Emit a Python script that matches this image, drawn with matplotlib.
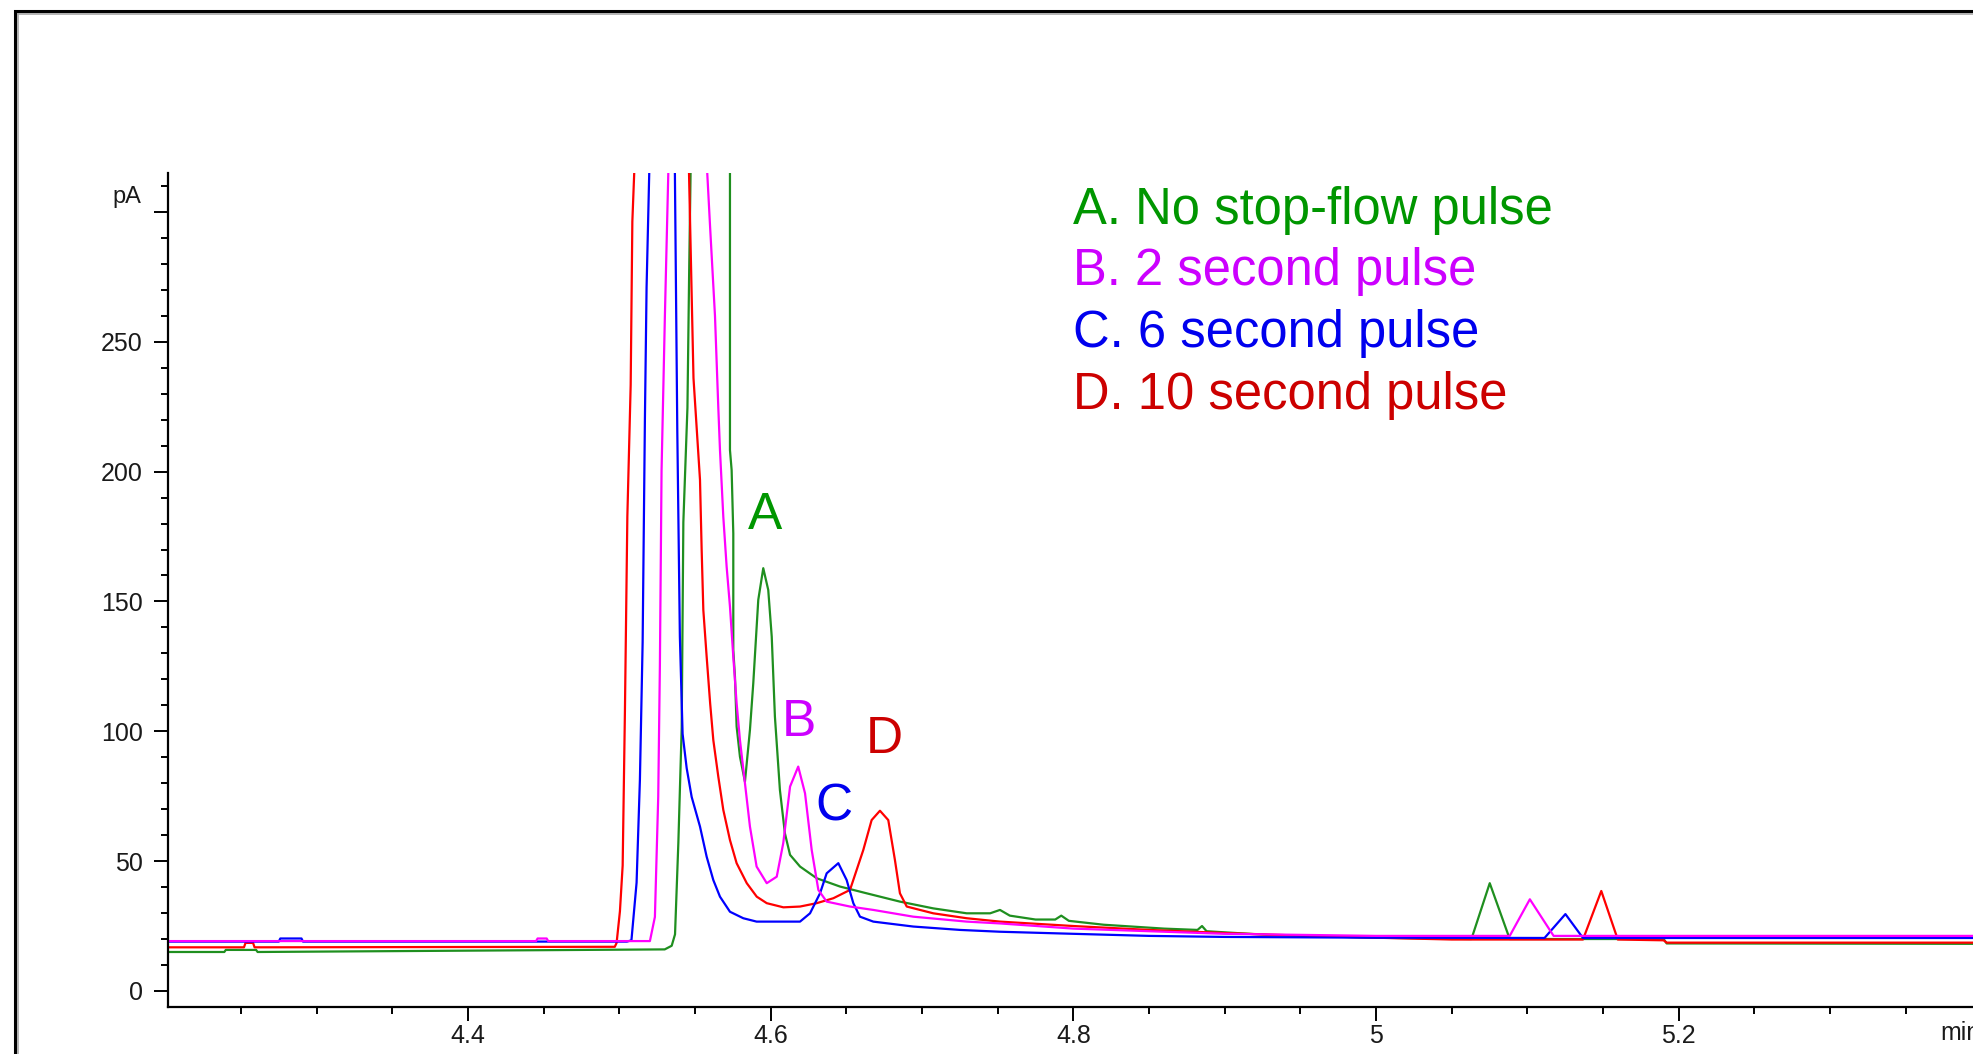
import matplotlib
matplotlib.use("Agg")
import matplotlib.pyplot as plt
from matplotlib.patches import Rectangle
from matplotlib.lines import Line2D
from matplotlib.ticker import FixedLocator, MultipleLocator

# ---------------- data (retention time in min, signal in pA) ----------------
t_green = [4.200, 4.239, 4.240, 4.260, 4.261, 4.530, 4.5346, 4.5368, 4.539, 4.5412,
           4.5423, 4.545, 4.5462, 4.5471, 4.560, 4.5731, 4.5731, 4.5742, 4.5753, 4.5753,
           4.5764, 4.5775, 4.5797, 4.583, 4.5863, 4.5885, 4.5918, 4.5951, 4.5984, 4.6007,
           4.6028, 4.6061, 4.6094, 4.6128, 4.6194, 4.6304, 4.6458, 4.6634, 4.6854, 4.7074,
           4.7295, 4.745, 4.7515, 4.758, 4.775, 4.788, 4.792, 4.797, 4.82, 4.86,
           4.882, 4.885, 4.888, 4.93, 5.0, 5.063, 5.0751, 5.0883, 5.19, 5.192, 5.45]
v_green = [15.0, 15.0, 15.8, 15.8, 15.0, 16.0, 17.4, 21.8, 57.1, 101.2,
           180.5, 224.6, 279.7, 316, 1500, 316, 208.3, 200.6, 176.2, 131.3,
           121.0, 101.8, 90.2, 80.6, 100.5, 118.5, 150.6, 162.8, 154.4, 136.4,
           105.6, 77.4, 60.7, 52.4, 47.9, 43.4, 40.2, 37.6, 34.4, 31.8,
           29.9, 29.9, 31.2, 29.0, 27.5, 27.5, 29.0, 27.0, 25.5, 24.0,
           23.5, 25.0, 23.0, 21.5, 20.5, 20.0, 41.5, 20.0, 20.0, 18.3, 18.1]

t_red = [4.200, 4.252, 4.253, 4.258, 4.259, 4.497, 4.4982, 4.5004, 4.5022, 4.5037,
         4.5053, 4.5075, 4.5086, 4.5099, 4.527, 4.546, 4.549, 4.5533, 4.5544, 4.5555,
         4.5577, 4.560, 4.5621, 4.5654, 4.5687, 4.5731, 4.5775, 4.5842, 4.5908, 4.5974,
         4.6084, 4.6194, 4.6304, 4.6414, 4.6524, 4.6612, 4.6667, 4.6722, 4.6777, 4.6821,
         4.6854, 4.6899, 4.7074, 4.7295, 4.7515, 4.80, 4.85, 4.90, 4.95, 5.0,
         5.05, 5.1367, 5.1488, 5.1597, 5.19, 5.192, 5.45]
v_red = [16.8, 16.8, 18.5, 18.5, 16.8, 17.0, 18.5, 30.7, 48.3, 107.8,
         182.7, 233.4, 296.3, 316, 1500, 316, 236, 196.8, 169.8, 146.7,
         128.7, 110.8, 96.6, 82.5, 69.7, 58.1, 49.2, 41.5, 36.3, 33.8,
         32.2, 32.5, 33.8, 35.7, 38.9, 54.3, 65.8, 69.4, 65.8, 50.4,
         37.6, 32.5, 29.9, 28.0, 26.7, 25.0, 23.5, 22.3, 21.3, 20.5,
         19.8, 19.8, 38.5, 19.8, 19.5, 18.6, 18.6]

t_blue = [4.200, 4.275, 4.276, 4.290, 4.291, 4.505, 4.508, 4.5114, 4.5136, 4.5154,
          4.5169, 4.518, 4.5198, 4.528, 4.5367, 4.5383, 4.540, 4.5418, 4.5445, 4.5478,
          4.5533, 4.5577, 4.5621, 4.5665, 4.5731, 4.5819, 4.5907, 4.6194, 4.626, 4.6326,
          4.637, 4.6447, 4.6502, 4.6546, 4.659, 4.6678, 4.6942, 4.7251, 4.7515, 4.80,
          4.85, 4.90, 5.0, 5.1113, 5.1251, 5.1367, 5.45]
v_blue = [19.0, 19.0, 20.2, 20.2, 19.0, 19.0, 19.5, 41.7, 81.4, 134.3,
          220.2, 270.9, 316, 1500, 316, 215.8, 136.5, 99.0, 85.8, 74.7,
          63.3, 51.7, 42.7, 36.3, 30.5, 28.0, 26.7, 26.7, 29.9, 37.6,
          45.3, 49.2, 42.7, 33.8, 28.6, 26.7, 24.8, 23.5, 22.8, 22.0,
          21.2, 20.8, 20.5, 20.4, 29.6, 20.4, 20.4]

t_mag = [4.200, 4.445, 4.446, 4.452, 4.453, 4.5202, 4.5235, 4.5257, 4.5268, 4.5279,
         4.5301, 4.5324, 4.545, 4.558, 4.5599, 4.5632, 4.5654, 4.5665, 4.5687, 4.5709,
         4.5731, 4.5753, 4.5775, 4.5797, 4.583, 4.5863, 4.5907, 4.5974, 4.604, 4.6083,
         4.6128, 4.6182, 4.6227, 4.6271, 4.6315, 4.637, 4.6524, 4.6678, 4.6942, 4.7295,
         4.7515, 4.80, 4.85, 4.90, 5.0, 5.0883, 5.1016, 5.1173, 5.45]
v_mag = [19.2, 19.2, 20.2, 20.2, 19.2, 19.2, 28.5, 74.7, 125.4, 200.4,
         259.9, 316, 1500, 316, 295, 260, 224.6, 208.3, 182.6, 163.4,
         148.0, 128.7, 110.8, 96.6, 80.0, 63.3, 47.9, 41.5, 44.0, 56.9,
         78.7, 86.4, 76.1, 54.3, 38.9, 34.4, 32.5, 31.2, 28.6, 26.7,
         26.0, 24.0, 23.0, 22.0, 21.2, 21.2, 35.3, 21.2, 21.2]

x_major = [4.4, 4.6, 4.8, 5.0, 5.2]
x_labels = ["4.4", "4.6", "4.8", "5", "5.2"]
y_major = [0, 50, 100, 150, 200, 250, 300]
y_labels = ["0", "50", "100", "150", "200", "250", ""]

legend_texts = ["A. No stop-flow pulse", "B. 2 second pulse",
                "C. 6 second pulse", "D. 10 second pulse"]
peak_letters = ["A", "B", "C", "D"]

# ---------------- styling ----------------
line_colors = {"A": "#1f8f1f", "B": "#ff00ff", "C": "#0000ff", "D": "#ff0000"}
text_colors = ["#009600", "#cc00ff", "#0000ee", "#cc0000"]
plt.rcParams['font.family'] = ['Liberation Sans', 'DejaVu Sans']

W, H = 1974, 1054
fig = plt.figure(figsize=(W / 100, H / 100), dpi=100)

# axes geometry (pixel based)
px_per_min = 1513.5
x0_px, xaxis_px, ytop_px = 167.7, 1007.3, 173.0
xmin, xmax = 4.2016, 5.45
ymin, ymax = -6.3, 315.0
ax_w = (xmax - xmin) * px_per_min / W
ax = fig.add_axes([x0_px / W, (H - xaxis_px) / H, ax_w, (xaxis_px - ytop_px) / H])
ax.set_xlim(xmin, xmax)
ax.set_ylim(ymin, ymax)

lw = 1.6
ax.plot(t_green, v_green, color=line_colors["A"], lw=lw)
ax.plot(t_red, v_red, color=line_colors["D"], lw=lw)
ax.plot(t_blue, v_blue, color=line_colors["C"], lw=lw)
ax.plot(t_mag, v_mag, color=line_colors["B"], lw=lw)

for s in ("top", "right"):
    ax.spines[s].set_visible(False)
for s in ("left", "bottom"):
    ax.spines[s].set_linewidth(1.6)
    ax.spines[s].set_color("black")

ax.xaxis.set_major_locator(FixedLocator(x_major))
ax.set_xticklabels(x_labels)
ax.xaxis.set_minor_locator(MultipleLocator(0.05))
ax.yaxis.set_major_locator(FixedLocator(y_major))
ax.set_yticklabels(y_labels)
ax.yaxis.set_minor_locator(MultipleLocator(10))

ax.tick_params(axis="both", which="major", length=10, width=1.4, color="black",
               labelsize=18, labelcolor="#1a1a1a")
ax.tick_params(axis="both", which="minor", length=5, width=1.4, color="black")
ax.tick_params(axis="y", which="major", pad=8)
ax.tick_params(axis="x", which="major", pad=2)

# unit labels
fig.text(127 / W, (H - 197) / H, "pA", ha="center", va="center", fontsize=17, color="#1a1a1a")
fig.text(1940 / W, (H - 1033) / H, "min", ha="left", va="center", fontsize=18, color="#1a1a1a")

# peak letters
letter_pos = [(4.5962, 178.0), (4.6187, 98.2), (4.6418, 65.8), (4.6752, 91.6)]
for letter, (lx, ly), c in zip(peak_letters, letter_pos, text_colors):
    ax.text(lx, ly, letter, color=c, fontsize=37, ha="center", va="baseline")

# legend text block
baselines = [224.0, 285.5, 347.0, 408.5]
for txt, by, c in zip(legend_texts, baselines, text_colors):
    fig.text(1073 / W, (H - by) / H, txt, color=c, fontsize=36.5, ha="left", va="baseline")

# outer frame (3D-like border)
fig.patches.append(Rectangle((15 / W, -0.2), 1.2, (H - 11) / H + 0.2, transform=fig.transFigure,
                             fill=False, ec="black", lw=2.2, zorder=5))
fig.lines.append(Line2D([17.5 / W, 1.0], [(H - 13.5) / H] * 2, transform=fig.transFigure,
                        color="#a8a8a8", lw=1.2))
fig.lines.append(Line2D([17.5 / W] * 2, [0, (H - 13.5) / H], transform=fig.transFigure,
                        color="#a8a8a8", lw=1.2))

fig.savefig("out.png", dpi=100)
